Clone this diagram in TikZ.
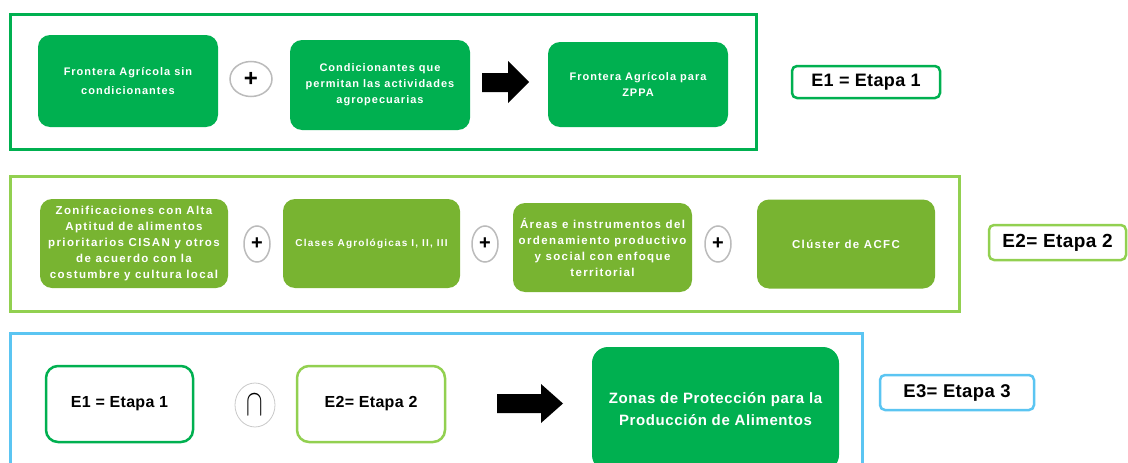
\documentclass[tikz,border=0pt]{standalone}
\usepackage{fontspec}
\setmainfont{Liberation Sans}
\newfontfamily\rowAfont[LetterSpace=9]{Liberation Sans}
\newfontfamily\rowBfont[LetterSpace=12]{Liberation Sans}
\newfontfamily\labfont[LetterSpace=2]{Liberation Sans}
\newfontfamily\zonefont[LetterSpace=4]{Liberation Sans}
\usetikzlibrary{shapes.geometric}
\definecolor{dgreen}{HTML}{00B050}
\definecolor{lgreen}{HTML}{92D050}
\definecolor{ofill}{HTML}{78B431}
\definecolor{lblue}{HTML}{5BC5F2}
\definecolor{cgray}{HTML}{BBBBBB}
\tikzset{
  frameA/.style={draw=dgreen, line width=3pt},
  frameB/.style={draw=lgreen, line width=3pt},
  frameC/.style={draw=lblue, line width=3pt},
  gbox/.style={rectangle, rounded corners=12pt, fill=dgreen, text=white, align=center, inner sep=2pt, font=\rowAfont\fontsize{11}{16}\selectfont\bfseries},
  obox/.style={rectangle, rounded corners=12pt, fill=ofill, text=white, align=center, inner sep=2pt, font=\rowBfont\fontsize{11.5}{16}\selectfont\bfseries},
  elabel/.style={rectangle, rounded corners=5pt, fill=white, line width=2.5pt, align=center, inner sep=2pt, font=\labfont\fontsize{18}{20}\selectfont\bfseries},
  opcirc/.style={ellipse, draw=cgray, line width=1.5pt, fill=white, inner sep=0pt},
  blockarrow/.style={fill=black},
}
\begin{document}
\begin{tikzpicture}[x=1pt, y=-1pt]
\useasboundingbox (0,0) rectangle (1128,463);
% ---------- Etapa 1 ----------
\draw[frameA] (10.5,14.5) rectangle (756,149);
\node[gbox, minimum width=180pt, minimum height=92pt, font=\rowAfont\fontsize{11}{19}\selectfont\bfseries] (f1) at (128,81) {Frontera Agrícola sin\\condicionantes};
\node[opcirc, minimum width=42pt, minimum height=35pt, font=\fontsize{24}{24}\selectfont\bfseries] (p1) at (251,79) {+};
\node[gbox, minimum width=180pt, minimum height=90pt] (f2) at (380,85) {Condicionantes que\\permitan las actividades\\agropecuarias};
\fill[blockarrow] (482,73) -- (508,73) -- (508,61) -- (529,82) -- (508,103) -- (508,92) -- (482,92) -- cycle;
\node[gbox, minimum width=180pt, minimum height=85pt] (f3) at (638,84.5) {Frontera Agrícola para\\ZPPA};
\node[elabel, draw=dgreen, minimum width=148pt, minimum height=32pt] (e1) at (866,82) {E1 = Etapa 1};
% ---------- Etapa 2 ----------
\draw[frameB] (10.5,176) rectangle (959,311.5);
\node[obox, minimum width=188pt, minimum height=89pt] (z1) at (134,243.5) {Zonificaciones con Alta\\Aptitud de alimentos\\prioritarios CISAN y otros\\de acuerdo con la\\costumbre y cultura local};
\node[opcirc, minimum width=26pt, minimum height=36pt, font=\fontsize{20}{20}\selectfont\bfseries] (p2) at (257,244) {+};
\node[obox, minimum width=177pt, minimum height=89pt, font=\rowBfont\fontsize{10}{12}\selectfont\bfseries] (z2) at (371.5,243.5) {Clases Agrológicas I, II, III};
\node[opcirc, minimum width=26pt, minimum height=36pt, font=\fontsize{20}{20}\selectfont\bfseries] (p3) at (485,244) {+};
\node[obox, minimum width=179pt, minimum height=89pt] (z3) at (602.5,247.5) {Áreas e instrumentos del\\ordenamiento productivo\\y social con enfoque\\territorial};
\node[opcirc, minimum width=26pt, minimum height=36pt, font=\fontsize{20}{20}\selectfont\bfseries] (p4) at (718,244) {+};
\node[obox, minimum width=178pt, minimum height=89pt] (z4) at (846,244) {Clúster de ACFC};
\node[elabel, draw=lgreen, minimum width=137pt, minimum height=35pt, font=\labfont\fontsize{19}{21}\selectfont\bfseries] (e2) at (1057.5,242.5) {E2= Etapa 2};
% ---------- Etapa 3 ----------
\draw[frameC] (10,333) rectangle (862,480);
\node[elabel, draw=dgreen, rounded corners=12pt, minimum width=147pt, minimum height=76pt, font=\labfont\fontsize{16}{18}\selectfont\bfseries] (s1) at (119.5,404) {E1 = Etapa 1};
\node[opcirc, draw=cgray!80, line width=0.8pt, minimum width=40pt, minimum height=44pt, font=\fontsize{24}{24}\selectfont] (c1) at (255,405) {\scalebox{1}[1.5]{$\cap$}};
\node[elabel, draw=lgreen, rounded corners=12pt, minimum width=148pt, minimum height=76pt, font=\labfont\fontsize{16}{18}\selectfont\bfseries] (s2) at (371,404) {E2= Etapa 2};
\fill[blockarrow] (497,394) -- (541,394) -- (541,384) -- (563,403.5) -- (541,423) -- (541,413) -- (497,413) -- cycle;
\node[gbox, minimum width=247pt, minimum height=124pt, rounded corners=16pt, font=\zonefont\fontsize{15}{22}\selectfont\bfseries] (zp) at (715.5,409) {Zonas de Protección para la\\Producción de Alimentos};
\node[elabel, draw=lblue, minimum width=154pt, minimum height=35pt, font=\labfont\fontsize{18.5}{20}\selectfont\bfseries] (e3) at (957,392.5) {E3= Etapa 3};
\end{tikzpicture}
\end{document}
